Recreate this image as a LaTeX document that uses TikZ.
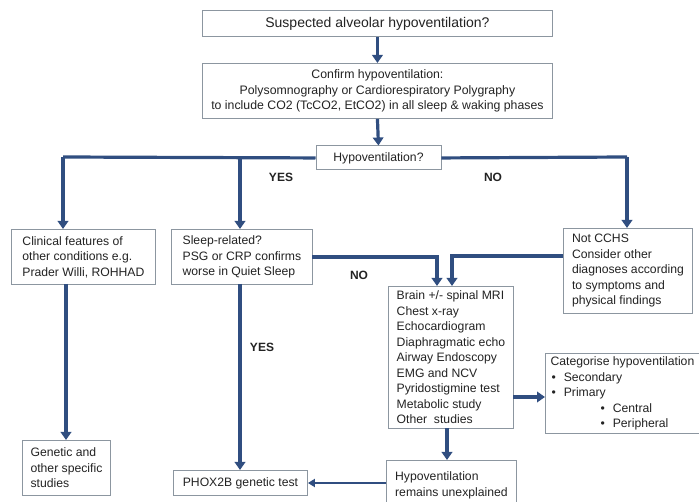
\documentclass[tikz,border=0pt]{standalone}
\usepackage{fontspec}
\setmainfont{Liberation Sans}
\usetikzlibrary{arrows.meta}
\definecolor{flow}{RGB}{48,78,128}
\definecolor{edge}{RGB}{140,150,160}
\definecolor{ink}{RGB}{35,35,35}
\tikzset{
  box/.style={draw=edge, line width=0.9pt, fill=white, inner sep=0pt, anchor=north west, text=ink,
    font=\fontsize{12.2}{15.5}\selectfont},
  lbox/.style={box, align=left},
  cbox/.style={box, align=center},
  conn/.style={draw=flow, line width=3.2pt, -{Triangle[length=8pt,width=10.5pt]}},
  plain/.style={draw=flow, line width=3.2pt},
  thinconn/.style={draw=flow, line width=2.2pt, -{Triangle[length=7pt,width=8pt]}},
  lab/.style={font=\fontsize{12}{14}\selectfont\bfseries, text=ink, inner sep=0pt}
}
\begin{document}
\begin{tikzpicture}[x=1pt,y=-1pt]
\useasboundingbox (0,0) rectangle (699,502);
% boxes
\node[cbox, minimum width=350pt, minimum height=26pt, font=\fontsize{14}{17}\selectfont] (b1) at (202,10) {Suspected alveolar hypoventilation?};
\node[cbox, minimum width=350pt, minimum height=55pt, font=\fontsize{12.3}{15.5}\selectfont] (b2) at (202,63) {Confirm hypoventilation:\\Polysomnography or Cardiorespiratory Polygraphy\\to include CO2 (TcCO2, EtCO2) in all sleep \& waking phases};
\node[cbox, minimum width=125pt, minimum height=24pt] (b3) at (315.5,145.5) {Hypoventilation?};
\node[lbox, minimum width=144pt, minimum height=55pt] (clin) at (11,229) {Clinical features of\\other conditions e.g.\\Prader Willi, ROHHAD};
\node[lbox, minimum width=141pt, minimum height=55pt] (sleep) at (171,229) {Sleep-related?\\PSG or CRP confirms\\worse in Quiet Sleep};
\node[lbox, minimum width=129pt, minimum height=85pt] (ncchs) at (563,228) {Not CCHS\\Consider other\\diagnoses according\\to symptoms and\\physical findings};
\node[lbox, minimum width=88pt, minimum height=55pt] (gen) at (22,440) {Genetic and\\other specific\\studies};
\node[cbox, minimum width=134pt, minimum height=25pt] (phox) at (173,470) {PHOX2B genetic test};
\node[lbox, minimum width=125pt, minimum height=142pt] (brain) at (388,286) {Brain +/- spinal MRI\\Chest x-ray\\Echocardiogram\\Diaphragmatic echo\\Airway Endoscopy\\EMG and NCV\\Pyridostigmine test\\Metabolic study\\Other\ \ studies};
\node[lbox, minimum width=154pt, minimum height=80pt] (cat) at (545,353) {Categorise hypoventilation\\\hspace{1pt}\textbullet\hspace{8pt}Secondary\\\hspace{1pt}\textbullet\hspace{8pt}Primary\\\hspace{50pt}\textbullet\hspace{8pt}Central\\\hspace{50pt}\textbullet\hspace{8pt}Peripheral};
\node[lbox, minimum width=130pt, minimum height=50pt] (unex) at (386,460) {Hypoventilation\\remains unexplained};
% connectors
\draw[conn] (b1.south) -- (b2.north);
\draw[conn] (b2.south) -- (b3.north);
\coordinate (hl) at (63,157);
\coordinate (hm) at (240,157);
\coordinate (hr) at (627,157);
\draw[plain] (b3.west) -- (hl);
\draw[conn] (hl) -- (hl |- clin.north);
\draw[conn] (hm) -- (hm |- sleep.north);
\draw[plain] (b3.east) -- (hr);
\draw[conn] (hr) -- (hr |- ncchs.north);
\coordinate (cg) at (66,284);
\draw[conn] (cg) -- (cg |- gen.north);
\coordinate (sp) at (240,284);
\draw[conn] (sp) -- (sp |- phox.north);
\coordinate (sr) at (312,257);
\coordinate (sb) at (437,257);
\draw[conn] (sr) -- (sb) -- (sb |- brain.north);
\coordinate (nr) at (563,256);
\coordinate (nb) at (452,256);
\draw[conn] (nr) -- (nb) -- (nb |- brain.north);
\coordinate (bc) at (513,397);
\draw[conn] (bc) -- (bc -| cat.west);
\coordinate (bu) at (447,428);
\draw[conn] (bu) -- (bu |- unex.north);
\coordinate (up) at (386,483);
\draw[thinconn] (up) -- (up -| phox.east);
% labels
\node[lab] (yes1) at (281,177) {YES};
\node[lab] (no1) at (493,177) {NO};
\node[lab] (no2) at (359,275) {NO};
\node[lab] (yes2) at (262,347) {YES};
\end{tikzpicture}
\end{document}
